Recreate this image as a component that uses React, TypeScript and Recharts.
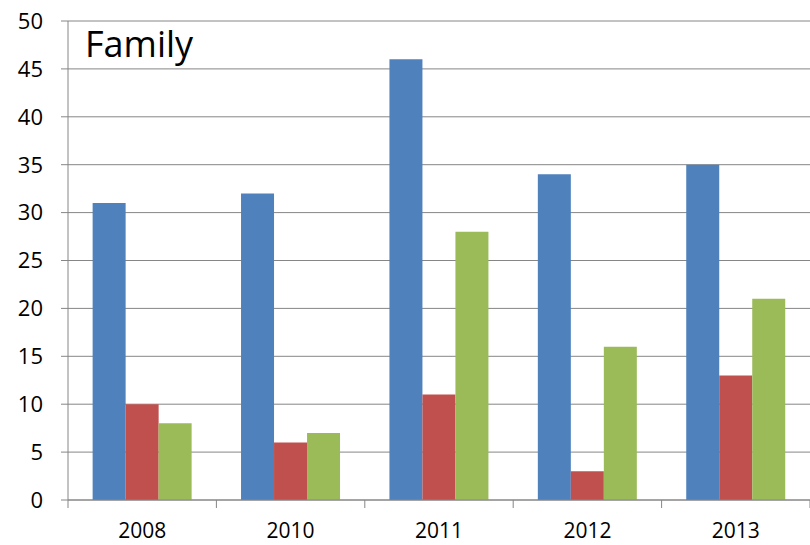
import { BarChart, Bar, XAxis, YAxis, CartesianGrid } from 'recharts';

const years = ['2008', '2010', '2011', '2012', '2013'];
const blueValues = [31, 32, 46, 34, 35];
const redValues = [10, 6, 11, 3, 13];
const greenValues = [8, 7, 28, 16, 21];
const yTicks = [0, 5, 10, 15, 20, 25, 30, 35, 40, 45, 50];

const data = years.map((year, i) => ({
  year,
  blue: blueValues[i],
  red: redValues[i],
  green: greenValues[i],
}));

const axisGray = '#868686';
const font = '"Open Sans", sans-serif';

// x tick: label at band centre, small tick marks at the band edges
const YearTick = (props: any) => {
  const { x, y, payload, index } = props;
  const off = payload.offset ?? 0;
  return (
    <g>
      <line x1={x - off} y1={y - 23} x2={x - off} y2={y - 15} stroke={axisGray} />
      {index === years.length - 1 && (
        <line x1={x + off} y1={y - 23} x2={x + off} y2={y - 15} stroke={axisGray} />
      )}
      <text x={x} y={y} dy="0.71em" textAnchor="middle" fill="#000" fontSize={21} fontFamily={font}>
        {payload.value}
      </text>
    </g>
  );
};

export default function App() {
  return (
    <div style={{ position: 'absolute', left: 0, top: 0, width: 810, height: 545, background: '#fff' }}>
      <BarChart
        width={810}
        height={545}
        data={data}
        margin={{ top: 21, right: 0, left: 0, bottom: 0 }}
        barCategoryGap="16.6%"
        barGap={0}
      >
        <CartesianGrid vertical={false} stroke={axisGray} strokeWidth={1} />
        <XAxis
          dataKey="year"
          height={45}
          axisLine={{ stroke: axisGray }}
          tickLine={false}
          tickSize={8}
          tickMargin={15}
          tick={<YearTick />}
          interval={0}
        />
        <YAxis
          width={68}
          domain={[0, 50]}
          ticks={yTicks}
          interval={0}
          axisLine={{ stroke: axisGray }}
          tickLine={{ stroke: axisGray }}
          tickSize={7}
          tickMargin={18}
          tick={{ fill: '#000', fontSize: 22, fontFamily: font }}
        />
        <Bar dataKey="blue" fill="#4F81BD" isAnimationActive={false} />
        <Bar dataKey="red" fill="#C0504D" isAnimationActive={false} />
        <Bar dataKey="green" fill="#9BBB59" isAnimationActive={false} />
      </BarChart>
      <div
        style={{
          position: 'absolute',
          left: 85,
          top: 22,
          fontSize: 36,
          fontFamily: font,
          lineHeight: '44px',
          color: '#000',
        }}
      >
        Family
      </div>
    </div>
  );
}
